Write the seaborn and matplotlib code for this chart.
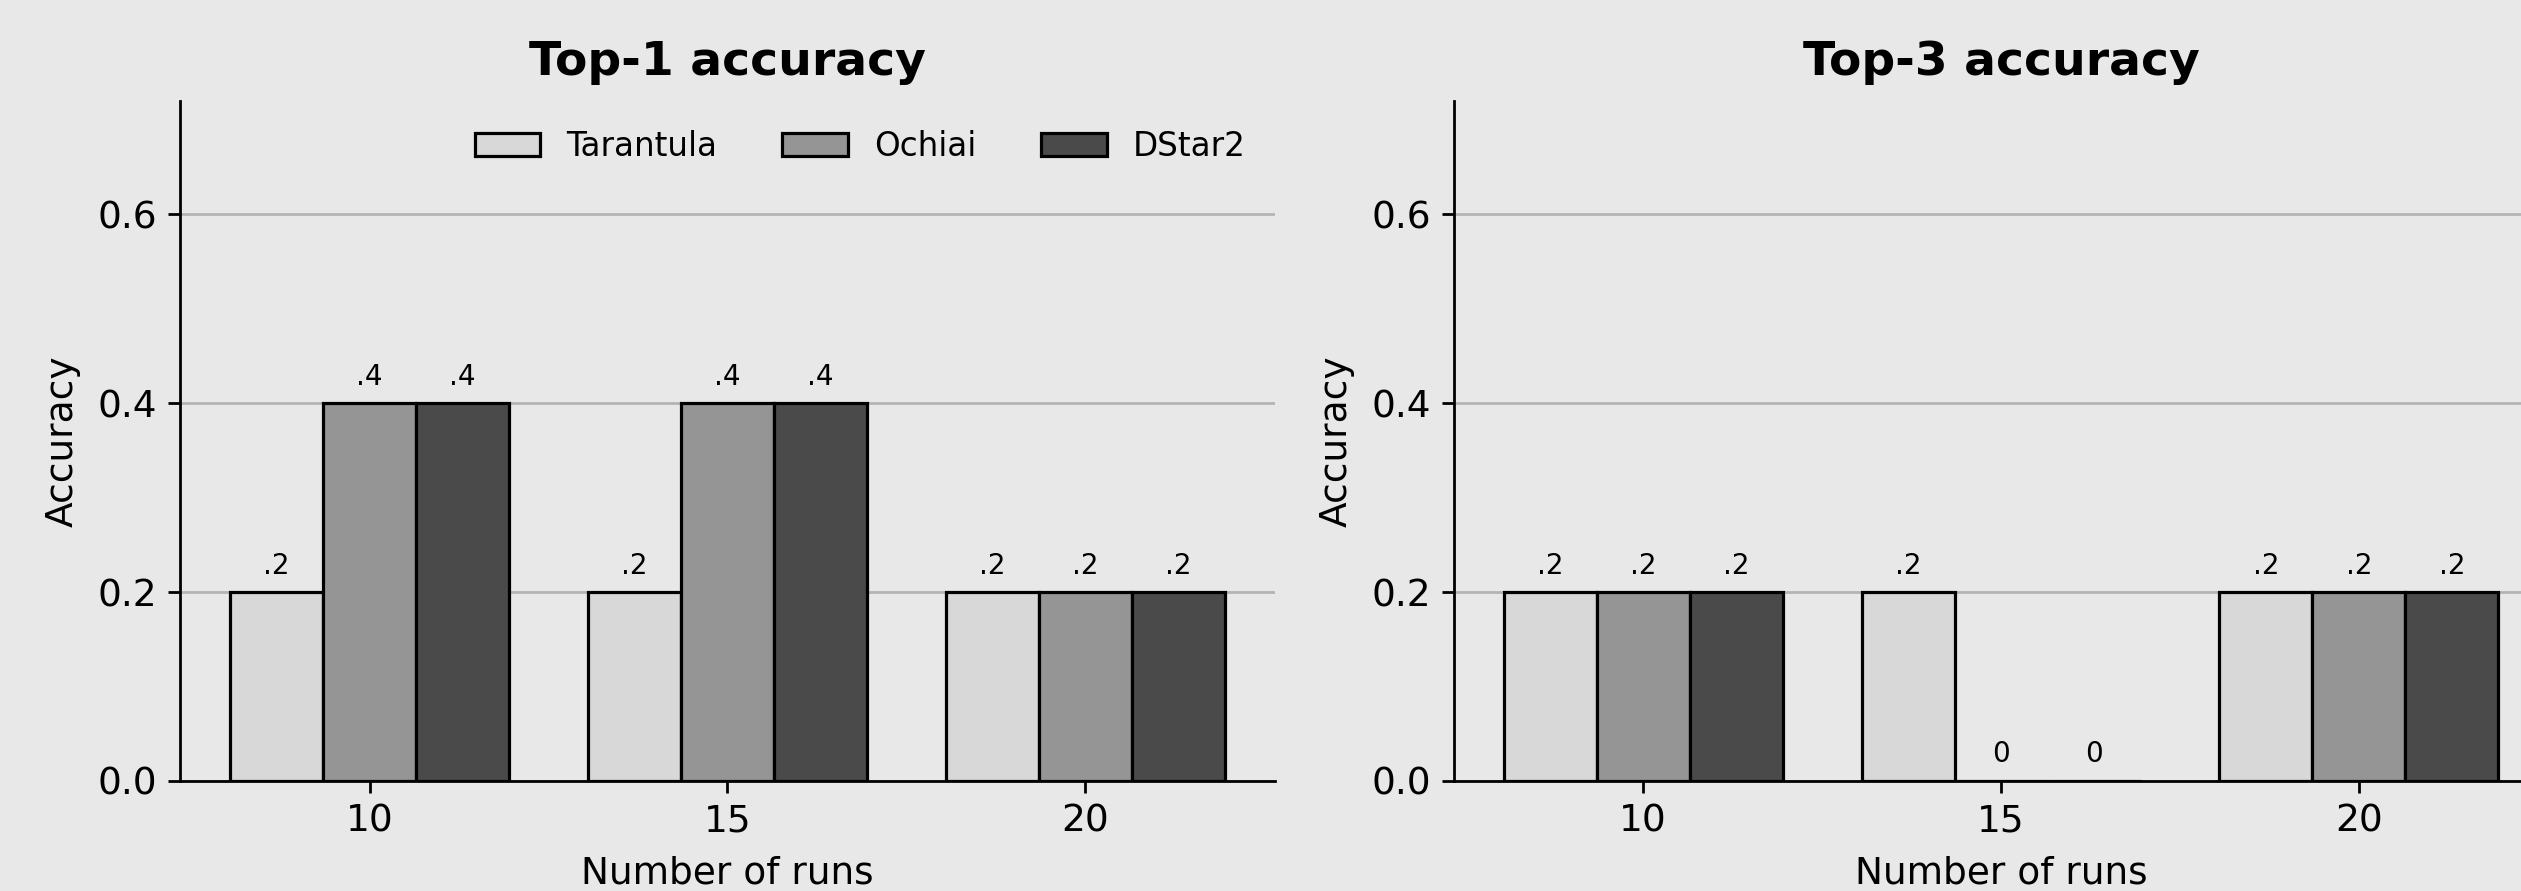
import matplotlib
matplotlib.use("Agg")
import matplotlib.pyplot as plt
import pandas as pd
import seaborn as sns

# Number of runs per configuration (x-axis categories)
runs = ["10", "15", "20"]
methods = ["Tarantula", "Ochiai", "DStar2"]

# Top-1 accuracy per method
top1_tarantula = [0.2, 0.2, 0.2]
top1_ochiai = [0.4, 0.4, 0.2]
top1_dstar2 = [0.4, 0.4, 0.2]

# Top-3 accuracy per method
top3_tarantula = [0.2, 0.2, 0.2]
top3_ochiai = [0.2, 0.0, 0.2]
top3_dstar2 = [0.2, 0.0, 0.2]

colors = ["#d8d8d8", "#959595", "#4a4a4a"]
bg = "#e8e8e8"


def long_frame(t, o, d):
    rows = []
    for vals, m in zip((t, o, d), methods):
        for r, v in zip(runs, vals):
            rows.append({"runs": r, "method": m, "acc": v})
    return pd.DataFrame(rows)


def fmt(v):
    return "0" if v == 0 else f"{v:.1f}".lstrip("0")


sns.set_theme(style="white")
plt.rcParams["font.family"] = ["DejaVu Sans"]
plt.rcParams["axes.facecolor"] = bg
plt.rcParams["figure.facecolor"] = bg
plt.rcParams["text.color"] = "black"
plt.rcParams["axes.labelcolor"] = "black"

fig = plt.figure(figsize=(25.21, 8.91), dpi=100)
ax1 = fig.add_axes([0.0714, 0.1235, 0.4343, 0.7632])
ax2 = fig.add_axes([0.5766, 0.1235, 0.4343, 0.7632])

panels = [
    (ax1, long_frame(top1_tarantula, top1_ochiai, top1_dstar2), "Top-1 accuracy"),
    (ax2, long_frame(top3_tarantula, top3_ochiai, top3_dstar2), "Top-3 accuracy"),
]

for ax, df, title in panels:
    sns.barplot(data=df, x="runs", y="acc", hue="method", order=runs,
                hue_order=methods, palette=colors, edgecolor="black",
                linewidth=2.3, width=0.78, ax=ax, errorbar=None,
                saturation=1)
    for cont in ax.containers:
        ax.bar_label(cont, labels=[fmt(v) for v in cont.datavalues],
                     padding=9, fontsize=20, color="black")
    ax.set_xlim(-0.53, 2.53)
    ax.set_ylim(0, 0.72)
    ax.set_yticks([0.0, 0.2, 0.4, 0.6])
    ax.set_yticklabels(["0.0", "0.2", "0.4", "0.6"])
    ax.set_axisbelow(True)
    ax.yaxis.grid(True, color="#b4b4b4", linewidth=2)
    ax.xaxis.grid(False)
    for s in ("top", "right"):
        ax.spines[s].set_visible(False)
    for s in ("left", "bottom"):
        ax.spines[s].set_color("black")
        ax.spines[s].set_linewidth(2)
    ax.tick_params(axis="both", labelsize=27, length=8.5, width=2, pad=8,
                   color="black", labelcolor="black", left=True, bottom=True)
    ax.set_xlabel("Number of runs", fontsize=27, labelpad=11)
    ax.set_ylabel("Accuracy", fontsize=27, labelpad=12)
    ax.set_title(title, fontsize=34, fontweight="bold", pad=18.5,
                 color="black")
    leg = ax.get_legend()
    if leg is not None:
        leg.remove()

handles, labels = ax1.get_legend_handles_labels()
ax1.legend(handles, labels, loc="upper right", ncol=3, frameon=False,
           fontsize=23.5, borderaxespad=0.5)

fig.savefig("out.png", dpi=100, facecolor=bg)
